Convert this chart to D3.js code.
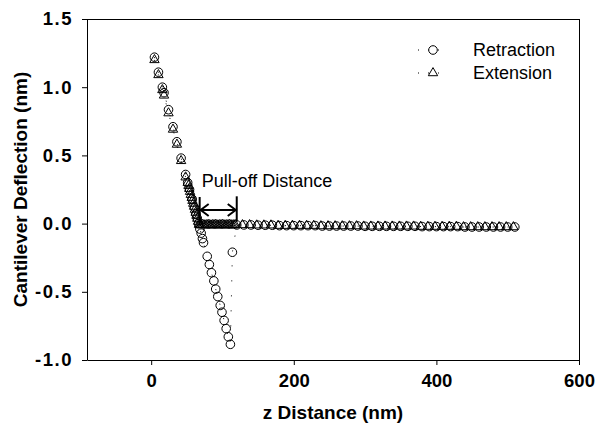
<!DOCTYPE html>
<html>
<head>
<meta charset="utf-8">
<script src="https://d3js.org/d3.v7.min.js"></script>
<style>
  body { margin: 0; background: #fff; }
  text { font-family: Arial, "Liberation Sans", sans-serif; fill: #000; }
</style>
</head>
<body>
<div id="chart"></div>
<script>
// Retraction curve (circles), increasing z
const retractZ = [4.6, 10.2, 15.7, 18.0, 24.3, 30.6, 36.1, 42.0, 48.3, 51.2, 53.8, 57.5, 60.5, 62.7, 64.6, 66.4,
    68.3, 70.1, 71.9, 73.4, 78.6, 81.6, 84.5, 87.9, 90.5, 93.4, 96.8, 99.3, 102.3, 105.2, 108.2, 111.1, 113.9,
    120, 130, 140, 150, 160, 170, 180, 190, 200, 210, 220, 230, 240, 250, 260, 270, 280, 290, 300, 310,
    320, 330, 340, 350, 360, 370, 380, 390, 400, 410, 420, 430, 440, 450, 460, 470, 480, 490, 500, 510];
const retractD = [1.22, 1.11, 1.00, 0.96, 0.835, 0.71, 0.60, 0.48, 0.36, 0.30, 0.25, 0.18, 0.12, 0.07, 0.04, 0.00,
    -0.04, -0.07, -0.11, -0.14, -0.24, -0.30, -0.36, -0.42, -0.48, -0.535, -0.60, -0.65, -0.71, -0.77, -0.83, -0.885, -0.21,
    -0.01, -0.01, -0.01, -0.012, -0.012, -0.012, -0.015, -0.015, -0.015, -0.015, -0.015, -0.015, -0.018, -0.018, -0.018, -0.018,
    -0.018, -0.018, -0.02, -0.02, -0.02, -0.02, -0.02, -0.02, -0.02, -0.02, -0.022, -0.022, -0.022, -0.022, -0.022,
    -0.022, -0.025, -0.025, -0.025, -0.025, -0.025, -0.025, -0.025, -0.025];

// Extension curve (triangles)
const extendZ = [4.6, 10.2, 15.7, 18.0, 24.3, 30.6, 36.1, 42.0, 48.3,
    51.2, 52.3, 53.4, 54.5, 55.6, 56.8, 57.9, 59.0, 60.2, 61.3, 62.4, 63.5, 64.7, 65.8, 66.9,
    68, 70, 72, 74, 76, 78, 80, 82, 84, 86, 88, 90, 92, 94, 96, 98, 100, 102, 104, 106, 108, 110, 112, 114, 116,
    118, 128, 138, 148, 158, 168, 178, 188, 198, 208, 218, 228, 238, 248, 258, 268, 278, 288, 298, 308,
    318, 328, 338, 348, 358, 368, 378, 388, 398, 408, 418, 428, 438, 448, 458, 468, 478, 488, 498, 508];
const extendD = [1.20, 1.09, 0.98, 0.94, 0.81, 0.69, 0.58, 0.46, 0.34,
    0.30, 0.278, 0.256, 0.234, 0.212, 0.19, 0.168, 0.147, 0.125, 0.103, 0.081, 0.059, 0.037, 0.015, -0.007,
    -0.01, -0.01, -0.008, -0.01, -0.012, -0.01, -0.008, -0.01, -0.012, -0.01, -0.01, -0.008, -0.01, -0.012, -0.01,
    -0.01, -0.008, -0.01, -0.012, -0.01, -0.01, -0.008, -0.01, -0.012, -0.01,
    -0.01, -0.01, -0.01, -0.012, -0.012, -0.012, -0.015, -0.015, -0.015, -0.015, -0.015, -0.015, -0.018, -0.018,
    -0.018, -0.018, -0.018, -0.018, -0.02, -0.02, -0.02, -0.02, -0.02, -0.02, -0.02, -0.02, -0.022, -0.022,
    -0.022, -0.022, -0.022, -0.022, -0.025, -0.025, -0.025, -0.025, -0.025, -0.025, -0.025, -0.025];

const xTicks = [0, 200, 400, 600];
const yTicks = [-1.0, -0.5, 0.0, 0.5, 1.0, 1.5];
const seriesNames = ['Retraction', 'Extension'];

// Pull-off annotation (z from / to, in nm)
const pullOff = [68, 120];

const width = 597, height = 432;
const margin = { top: 19, right: 18, bottom: 72, left: 87 };

const svg = d3.select('#chart').append('svg')
    .attr('width', width)
    .attr('height', height);

const x = d3.scaleLinear().domain([-90, 600]).range([margin.left, width - margin.right]);
const y = d3.scaleLinear().domain([-1.0, 1.5]).range([height - margin.bottom, margin.top]);

// Frame lines on top and right
svg.append('line')
    .attr('x1', x(-90)).attr('x2', x(600) + 0.5)
    .attr('y1', y(1.5) + 0.5).attr('y2', y(1.5) + 0.5)
    .attr('stroke', '#000');
svg.append('line')
    .attr('x1', x(600) + 0.5).attr('x2', x(600) + 0.5)
    .attr('y1', y(1.5)).attr('y2', y(-1.0))
    .attr('stroke', '#000');

// Axes
const xAxis = svg.append('g')
    .attr('transform', 'translate(0,' + y(-1.0) + ')')
    .call(d3.axisBottom(x).tickValues(xTicks).tickSizeInner(5).tickSizeOuter(0).tickPadding(9)
        .tickFormat(d3.format('d')));
xAxis.selectAll('text')
    .style('font-size', '18.5px')
    .style('font-weight', 'bold');

const yAxis = svg.append('g')
    .attr('transform', 'translate(' + x(-90) + ',0)')
    .call(d3.axisLeft(y).tickValues(yTicks).tickSizeInner(5).tickSizeOuter(0).tickPadding(9)
        .tickFormat(d => d3.format('.1f')(d).replace('\u2212', '-')));
yAxis.selectAll('text')
    .style('font-size', '18.5px')
    .style('font-weight', 'bold')
    .style('letter-spacing', '1.5px');

svg.selectAll('.domain, .tick line').attr('stroke', '#000');

// Axis titles
svg.append('text')
    .attr('x', (x(-90) + x(600)) / 2)
    .attr('y', 419)
    .attr('text-anchor', 'middle')
    .style('font-size', '19px')
    .style('font-weight', 'bold')
    .text('z Distance (nm)');

svg.append('text')
    .attr('transform', 'translate(27,' + (y(-1.0) + y(1.5)) / 2 + ') rotate(-90)')
    .attr('text-anchor', 'middle')
    .style('font-size', '19px')
    .style('font-weight', 'bold')
    .text('Cantilever Deflection (nm)');

// Dotted connecting lines
const line = d3.line().x(d => x(d[0])).y(d => y(d[1]));
const retractPts = retractZ.map((z, i) => [z, retractD[i]]);
const extendPts = extendZ.map((z, i) => [z, extendD[i]]);

[retractPts, extendPts].forEach(pts => {
    svg.append('path')
        .datum(pts)
        .attr('d', line)
        .attr('fill', 'none')
        .attr('stroke', '#000')
        .attr('stroke-width', 1)
        .attr('stroke-dasharray', '1,14');
});

// Symbols
const triangle = d3.symbol().type(d3.symbolTriangle).size(38);

svg.append('g').selectAll('path')
    .data(extendPts)
    .enter()
    .append('path')
    .attr('d', triangle)
    .attr('transform', d => 'translate(' + x(d[0]) + ',' + y(d[1]) + ')')
    .attr('fill', 'none')
    .attr('stroke', '#000')
    .attr('stroke-width', 1);

svg.append('g').selectAll('circle')
    .data(retractPts)
    .enter()
    .append('circle')
    .attr('cx', d => x(d[0]))
    .attr('cy', d => y(d[1]))
    .attr('r', 4.3)
    .attr('fill', 'none')
    .attr('stroke', '#000')
    .attr('stroke-width', 1);

// Pull-off distance annotation
const arrowY = y(0.10);
const ann = svg.append('g')
    .attr('stroke', '#000')
    .attr('stroke-width', 2)
    .attr('fill', 'none');
ann.append('line')
    .attr('x1', x(pullOff[0])).attr('x2', x(pullOff[0]))
    .attr('y1', y(0.195)).attr('y2', y(-0.015));
ann.append('line')
    .attr('x1', x(pullOff[1])).attr('x2', x(pullOff[1]))
    .attr('y1', y(0.20)).attr('y2', y(0.015));
ann.append('line')
    .attr('x1', x(pullOff[0]) + 1).attr('x2', x(pullOff[1]) - 1)
    .attr('y1', arrowY).attr('y2', arrowY);
ann.append('path')
    .attr('d', 'M' + (x(pullOff[0]) + 9) + ',' + (arrowY - 6) + 'L' + (x(pullOff[0]) + 1) + ',' + arrowY +
        'L' + (x(pullOff[0]) + 9) + ',' + (arrowY + 6));
ann.append('path')
    .attr('d', 'M' + (x(pullOff[1]) - 9) + ',' + (arrowY - 6) + 'L' + (x(pullOff[1]) - 1) + ',' + arrowY +
        'L' + (x(pullOff[1]) - 9) + ',' + (arrowY + 6));

svg.append('text')
    .attr('x', x(pullOff[0]) + 2)
    .attr('y', 187)
    .style('font-size', '18px')
    .text('Pull-off Distance');

// Legend
const legend = svg.append('g');
seriesNames.forEach((name, i) => {
    const ly = 50 + i * 23;
    legend.append('line')
        .attr('x1', 418).attr('x2', 448)
        .attr('y1', ly).attr('y2', ly)
        .attr('stroke', '#000')
        .attr('stroke-dasharray', '1,9');
    if (i === 0) {
        legend.append('circle')
            .attr('cx', 433).attr('cy', ly).attr('r', 4.3)
            .attr('fill', '#fff').attr('stroke', '#000');
    } else {
        legend.append('path')
            .attr('d', triangle)
            .attr('transform', 'translate(433,' + ly + ')')
            .attr('fill', '#fff').attr('stroke', '#000');
    }
    legend.append('text')
        .attr('x', 473)
        .attr('y', ly)
        .attr('dy', '0.35em')
        .style('font-size', '18px')
        .text(name);
});
</script>
</body>
</html>
